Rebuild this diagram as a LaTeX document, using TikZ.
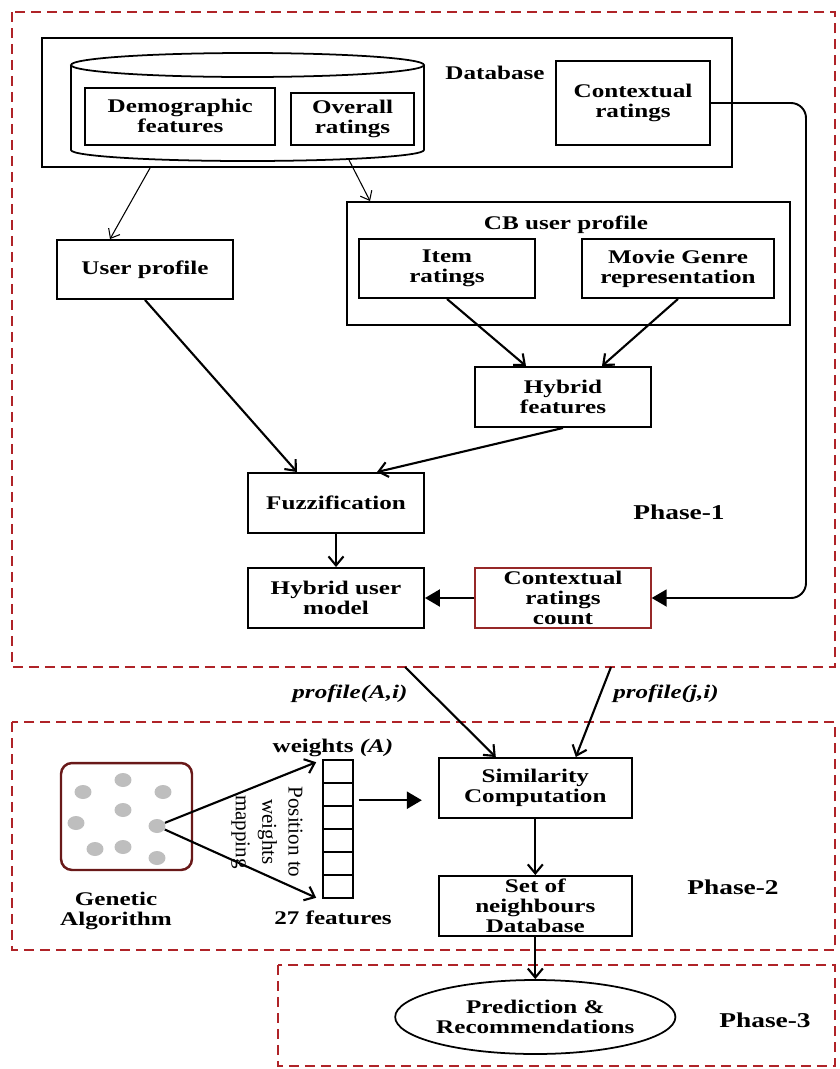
\documentclass[tikz,border=0pt]{standalone}
\usepackage{fontspec}
\setmainfont[FakeStretch=1.3]{Liberation Serif}
\newfontfamily\plainserif{Liberation Serif}
\usepackage{tikz}
\usepackage{xcolor}
\usetikzlibrary{arrows.meta,shapes.geometric}

\definecolor{phasered}{RGB}{175,35,40}
\definecolor{gabrown}{RGB}{105,25,25}
\definecolor{countred}{RGB}{150,40,40}
\definecolor{dotgray}{RGB}{190,190,190}

\tikzset{
  box/.style={draw=black, line width=1.1pt, align=center, inner sep=1pt,
    font=\bfseries\fontsize{11}{11.5}\selectfont},
  txt/.style={align=center, inner sep=0pt, font=\bfseries\fontsize{11}{11.5}\selectfont},
  phasetxt/.style={inner sep=0pt, font=\bfseries\fontsize{12}{14}\selectfont},
  phasebox/.style={draw=phasered, line width=1.4pt, dash pattern=on 0.2cm off 0.12cm},
  arr/.style={-{Straight Barb[length=1.8mm,width=3mm]}, line width=1.2pt},
  thinarr/.style={-{Straight Barb[length=1.6mm,width=2.6mm]}, line width=0.6pt},
  bigarr/.style={-{Triangle[length=3mm,width=3.4mm]}, line width=1.3pt},
  dot/.style={ellipse, fill=dotgray, minimum width=0.34cm, minimum height=0.28cm, inner sep=0pt},
  cell/.style={draw=black, line width=0.9pt, minimum width=0.6cm, minimum height=0.46cm, inner sep=0pt}
}

\begin{document}
\begin{tikzpicture}[x=0.02cm, y=-0.02cm]
        \useasboundingbox (0,0) rectangle (839,1069);

        % phase frames
        \draw[phasebox] (12,12) rectangle (835,667);
        \draw[phasebox] (12,722) rectangle (835,950);
        \draw[phasebox] (278,965) rectangle (835,1066);

        % database with cylinder
        \node[box, minimum width=13.8cm, minimum height=2.58cm] (db) at (387,102.5) {};
        \draw[line width=1pt] (71,65) -- (71,150) arc[start angle=180, end angle=360, x radius=3.53cm, y radius=0.22cm] -- (424,65);
        \draw[line width=1pt] (247.5,65) ellipse [x radius=3.53cm, y radius=0.24cm];
        \coordinate (cylbot) at (349,160);
        \node[txt] (dblabel) at (495,73) {Database};
        \node[box, minimum width=3.8cm, minimum height=1.14cm] (demo) at (180.3,116.3) {Demographic\\features};
        \node[box, minimum width=2.46cm, minimum height=1.04cm] (overall) at (352.5,119) {Overall\\ratings};
        \node[box, minimum width=3.08cm, minimum height=1.68cm] (ctx) at (633,103) {Contextual\\ratings};

        % CB user profile
        \node[box, minimum width=8.86cm, minimum height=2.46cm] (cb) at (568.5,263.5) {};
        \node[txt] (cblabel) at (566,225) {CB user profile};
        \node[box, minimum width=3.52cm, minimum height=1.18cm] (item) at (447,268.5) {Item\\ratings};
        \node[box, minimum width=3.84cm, minimum height=1.18cm] (genre) at (678,268.5) {Movie Genre\\representation};
        \node[box, minimum width=3.52cm, minimum height=1.18cm] (user) at (145,269.5) {User profile};

        % hybrid model
        \node[box, minimum width=3.52cm, minimum height=1.2cm] (hybf) at (563,397) {Hybrid\\features};
        \node[box, minimum width=3.52cm, minimum height=1.2cm] (fuzz) at (336,503) {Fuzzification};
        \node[box, minimum width=3.52cm, minimum height=1.2cm] (hum) at (336,598) {Hybrid user\\model};
        \node[box, draw=countred, line width=0.8pt, minimum width=3.52cm, minimum height=1.2cm] (crc) at (563,598) {Contextual\\ratings\\count};
        \node[phasetxt] (phase1) at (679,512) {Phase-1};

        % phase-1 arrows
        \draw[thinarr] ([xshift=-4.74cm]db.south) -- ([xshift=-0.7cm]user.north);
        \draw[thinarr] (cylbot) -- ([xshift=-3.97cm]cb.north);
        \draw[arr] (item.south) -- ([xshift=-0.74cm]hybf.north);
        \draw[arr] (genre.south) -- ([xshift=0.78cm]hybf.north);
        \draw[arr] (user.south) -- ([xshift=-0.78cm]fuzz.north);
        \draw[arr] (hybf.south) -- ([xshift=0.82cm]fuzz.north);
        \draw[arr] (fuzz.south) -- (hum.north);
        \draw[bigarr] (crc.west) -- (hum.east);
        \draw[bigarr, line width=1.1pt, rounded corners=0.3cm] (ctx.east) -- (806,103) -- (806,598) -- (crc.east);

        % profiles into phase-2
        \coordinate (pa) at (405,667);
        \coordinate (pj) at (611,667);
        \node[txt, font=\bfseries\itshape\fontsize{11}{11.5}\selectfont] (palabel) at (350,694) {profile(A,i)};
        \node[txt, font=\bfseries\itshape\fontsize{11}{11.5}\selectfont] (pjlabel) at (666,694) {profile(j,i)};

        % genetic algorithm
        \node[draw=gabrown, line width=1.4pt, rounded corners=0.22cm, minimum width=2.62cm, minimum height=2.14cm] (ga) at (126.5,816.5) {};
        \foreach \x/\y [count=\i] in {123/780, 83/792, 163/792, 123/810, 76/823, 157/826, 95/849, 123/847, 157/858}
        {
        \node[dot] (d\i) at (\x,\y) {};
        }
        \node[txt] (galabel) at (116,911) {Genetic\\Algorithm};

        % weight vector
        \foreach \i in {1,...,6}
        {
        \node[cell] (w\i) at (338,{760+23*\i-11.5}) {};
        }
        \node[txt] (wlabel) at (333,748) {weights \textit{(A)}};
        \node[txt] (flabel) at (333,918) {27 features};
        \node[rotate=-90, align=center, inner sep=0pt, font=\plainserif\fontsize{12}{15}\selectfont] (mapping) at (267,832) {Position to\\weights\\mapping};
        \draw[arr] (d6) -- ([xshift=-0.12cm,yshift=-0.06cm]w1.north west);
        \draw[arr] (d6) -- ([xshift=-0.12cm,yshift=0.02cm]w6.south west);

        % similarity and neighbours
        \node[box, minimum width=3.86cm, minimum height=1.2cm] (sim) at (535.3,788) {Similarity\\Computation};
        \node[box, minimum width=3.86cm, minimum height=1.2cm] (set) at (535.3,906) {Set of\\neighbours\\Database};
        \node[phasetxt] (phase2) at (733,887) {Phase-2};
        \coordinate (wout) at ([xshift=0.1cm,yshift=0.1cm]w3.north east);
        \draw[bigarr, shorten >=0.32cm] (wout) -- (wout -| sim.west);
        \draw[arr] (pa) -- ([xshift=-0.79cm]sim.north);
        \draw[arr] (pj) -- ([xshift=0.81cm]sim.north);
        \draw[arr] (sim.south) -- (set.north);

        % prediction
        \node[ellipse, draw=black, line width=1pt, align=center, inner sep=0pt, minimum width=5.12cm, minimum height=1.48cm,
          font=\bfseries\fontsize{11}{11.5}\selectfont] (pred) at (535.3,1017) {Prediction \&\\Recommendations};
        \node[phasetxt] (phase3) at (765,1020) {Phase-3};
        \draw[arr] (set.south) -- (pred.north);

\end{tikzpicture}
\end{document}
